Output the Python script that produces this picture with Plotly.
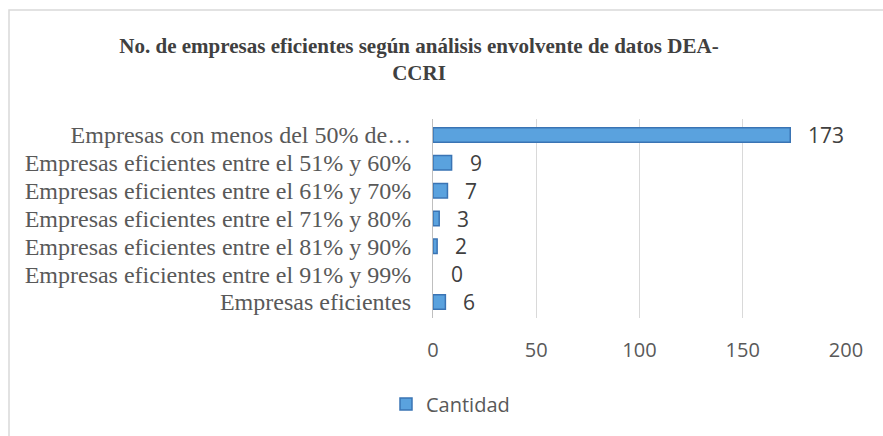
import plotly.graph_objects as go

categories = [
    "Empresas con menos del 50% de…",
    "Empresas eficientes entre el 51% y 60%",
    "Empresas eficientes entre el 61% y 70%",
    "Empresas eficientes entre el 71% y 80%",
    "Empresas eficientes entre el 81% y 90%",
    "Empresas eficientes entre el 91% y 99%",
    "Empresas eficientes",
]
values = [173, 9, 7, 3, 2, 0, 6]
series_name = "Cantidad"
x_ticks = [0, 50, 100, 150, 200]

W, H = 883, 436
L, R, T, B = 433, 37, 119, 118
pw, ph = W - L - R, H - T - B

def px_x(p):
    return (p - L) / pw

def px_y(p):
    return (H - B - p) / ph

num_font = dict(family="Open Sans, Liberation Sans, sans-serif", size=21, color="#404040")

fig = go.Figure()
fig.add_trace(go.Bar(
    y=categories, x=values, orientation="h", name=series_name,
    marker=dict(color="#5AA2DE",
                line=dict(color="#3A74B4", width=[1.5 if v > 0 else 0 for v in values])),
    width=0.52,
))

for c, v in zip(categories, values):
    fig.add_annotation(
        x=v, y=c, xref="x", yref="y", text=str(v), showarrow=False,
        xanchor="left", yanchor="middle", xshift=16, font=num_font,
    )

fig.update_layout(
    width=W, height=H,
    margin=dict(l=L, r=R, t=T, b=B, autoexpand=False),
    paper_bgcolor="white", plot_bgcolor="white",
    title=dict(
        text="<b>No. de empresas eficientes según análisis envolvente de datos DEA-<br>CCRI</b>",
        xref="container", yref="container",
        x=419 / W, xanchor="center", y=1 - 53 / H, yanchor="middle",
        font=dict(family="Liberation Serif, Times New Roman, serif", size=21, color="#404040"),
    ),
    xaxis=dict(
        range=[0, 200], tickvals=x_ticks, showgrid=True, gridcolor="#D9D9D9", gridwidth=1,
        zeroline=False, showline=False,
        tickfont=dict(family="Open Sans, Liberation Sans, sans-serif", size=20, color="#595959"),
        ticklabelstandoff=18,
    ),
    yaxis=dict(
        categoryorder="array", categoryarray=categories[::-1],
        tickmode="array", tickvals=categories, ticktext=categories,
        showline=True, linecolor="#BFBFBF", linewidth=1, showgrid=False,
        tickfont=dict(family="Liberation Serif, Times New Roman, serif", size=24, color="#595959"),
        ticklabelstandoff=16,
    ),
    showlegend=True,
    legend=dict(
        orientation="h", x=px_x(386), xanchor="left", y=px_y(404), yanchor="middle",
        font=dict(family="Open Sans, Liberation Sans, sans-serif", size=20, color="#595959"),
        itemwidth=30,
    ),
    shapes=[
        dict(type="rect", xref="paper", yref="paper",
             x0=px_x(9), x1=px_x(W + 20), y0=px_y(H + 20), y1=px_y(10),
             line=dict(color="#D9D9D9", width=1.5), fillcolor="rgba(0,0,0,0)", layer="below"),
    ],
)

fig.write_html(
    "out.html",
    config={"displayModeBar": False},
    post_script="document.body.style.margin='0';document.body.style.padding='0';",
)
